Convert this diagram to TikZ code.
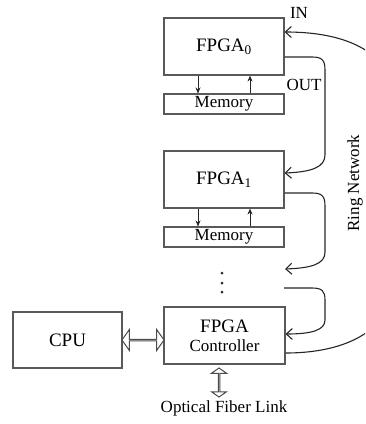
\documentclass[tikz,border=0pt]{standalone}
\usepackage{fontspec}
\setmainfont{Liberation Serif}
\usetikzlibrary{arrows.meta,shapes.arrows,calc}

\begin{document}
\begin{tikzpicture}[x=1pt,y=-1pt,
  box/.style={draw=black!65, line width=1.1pt, inner sep=0pt, font=\fontsize{17}{20}\selectfont},
  ring/.style={draw=black!85, line width=1.1pt, -{Straight Barb[length=6pt,width=11pt]}},
  memlink/.style={draw=black!85, line width=0.9pt, -{Stealth[length=6pt,width=5pt]}},
  bidir/.style={shape=double arrow, draw=black!70, line width=1pt, fill=white,
    inner sep=0pt, double arrow head indent=0pt},
  lbl/.style={font=\fontsize{17}{20}\selectfont, inner sep=0pt},
  big/.style={font=\fontsize{19}{22}\selectfont},
]
\useasboundingbox (0,0) rectangle (365,424);
\clip (0,0) rectangle (365,424);

% processing nodes with their local memories
\node[box, big, minimum width=120pt, minimum height=57pt] (f0) at (224,46.5) {FPGA\textsubscript{0}};
\node[box, minimum width=120pt, minimum height=20pt] (m0) at (224,104) {Memory};
\node[box, big, minimum width=120pt, minimum height=57pt] (f1) at (224,179.5) {FPGA\textsubscript{1}};
\node[box, minimum width=120pt, minimum height=20pt] (m1) at (224,237) {Memory};
\node[box, minimum width=121pt, minimum height=57pt, align=center] (ctrl) at (224.5,335.5)
  {{\fontsize{19}{18}\selectfont FPGA}\\[-1pt]Controller};
\node[box, big, minimum width=109pt, minimum height=56pt] (cpu) at (67.5,340) {CPU};

% FPGA <-> memory links
\foreach \f/\m in {f0/m0, f1/m1} {
  \draw[memlink] ([xshift=-26pt]\f.south) -- ([xshift=-26pt]\m.north);
  \draw[memlink] ([xshift=26pt]\m.north) -- ([xshift=26pt]\f.south);
}

% elided stages
\coordinate (gapin) at (285,269);
\coordinate (gapout) at (284,288);
\foreach \y in {273,283,292} \fill[black!85] (222,\y) circle (1.5pt);

% ring segments
\draw[ring] (f0.east |- 0,57) -- (312,57) .. controls (322,57) and (325,60) .. (325,70)
  -- (325,155) .. controls (325,167) and (312,172) .. (f1.east |- 0,173);
\draw[ring] (f1.east |- 0,193) -- (312,193) .. controls (322,193) and (325,196) .. (325,206)
  -- (325,252) .. controls (325,264) and (312,268) .. (gapin);
\draw[ring] (gapout) -- (312,288) .. controls (322,288) and (325,291) .. (325,300)
  -- (325,320) .. controls (325,330) and (312,334) .. (ctrl.east |- 0,334);
\draw[ring] (ctrl.east |- 0,353) .. controls (335,353) and (395,338) .. (400,270)
  -- (400,110) .. controls (395,45) and (335,32) .. (f0.east |- 0,32);

% host and external links
\node[bidir, minimum height=42pt, minimum width=21pt, double arrow head extend=6.5pt,
  double arrow tip angle=110] (hostlink) at ($(cpu.east)!0.5!(ctrl.west |- cpu.east)$) {};
\node[bidir, rotate=90, minimum height=29pt, minimum width=15pt, double arrow head extend=4.5pt,
  double arrow tip angle=110] (fiberlink) at (219,382.5) {};

% labels
\node[lbl] (inlbl) at (299,13) {IN};
\node[lbl] (outlbl) at (304,85) {OUT};
\node[lbl, rotate=90] (ringlbl) at (355,183) {Ring Network};
\node[lbl] (fiberlbl) at (224,408) {Optical Fiber Link};
\end{tikzpicture}
\end{document}
